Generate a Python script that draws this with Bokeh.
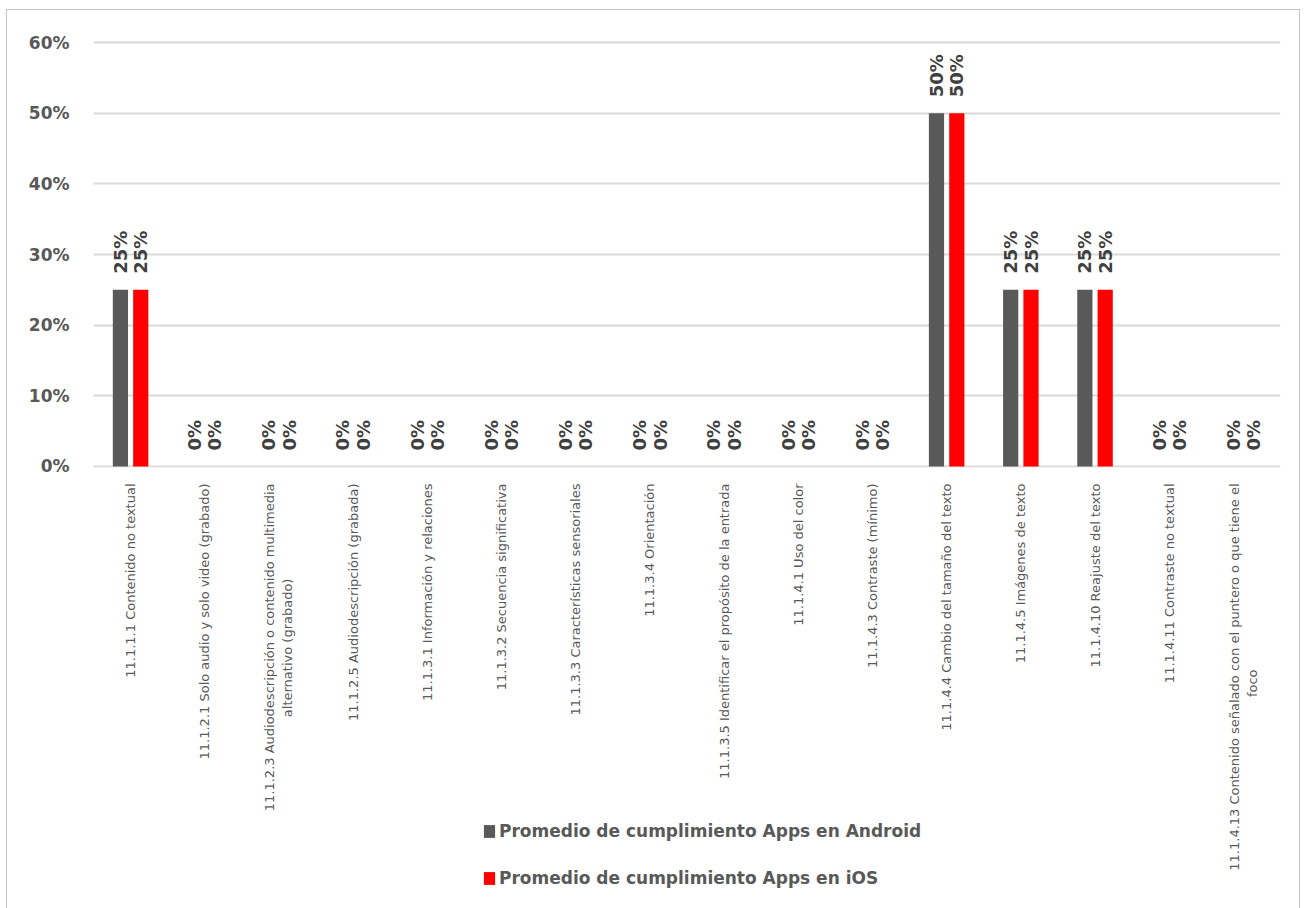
from bokeh.plotting import figure
from bokeh.models import (FactorRange, ColumnDataSource, FixedTicker, PrintfTickFormatter, Legend,
                          LegendItem, CustomJSTickFormatter)
from bokeh.transform import dodge
from bokeh.core.properties import value
from bokeh.embed import file_html
from bokeh.resources import INLINE
import math

categories = [
    "11.1.1.1 Contenido no textual",
    "11.1.2.1 Solo audio y solo video (grabado)",
    "11.1.2.3 Audiodescripción o contenido multimedia\nalternativo (grabado)",
    "11.1.2.5 Audiodescripción (grabada)",
    "11.1.3.1 Información y relaciones",
    "11.1.3.2 Secuencia significativa",
    "11.1.3.3 Características sensoriales",
    "11.1.3.4 Orientación",
    "11.1.3.5 Identificar el propósito de la entrada",
    "11.1.4.1 Uso del color",
    "11.1.4.3 Contraste (mínimo)",
    "11.1.4.4 Cambio del tamaño del texto",
    "11.1.4.5 Imágenes de texto",
    "11.1.4.10 Reajuste del texto",
    "11.1.4.11 Contraste no textual",
    "11.1.4.13 Contenido señalado con el puntero o que tiene el\nfoco",
]
android = [25, 0, 0, 0, 0, 0, 0, 0, 0, 0, 0, 50, 25, 25, 0, 0]
ios = [25, 0, 0, 0, 0, 0, 0, 0, 0, 0, 0, 50, 25, 25, 0, 0]
series_names = ["Promedio de cumplimiento Apps en Android", "Promedio de cumplimiento Apps en iOS"]
y_ticks = [0, 10, 20, 30, 40, 50, 60]

DARK = "#595959"
RED = "#FF0000"
FONT = "DejaVu Sans"

src = ColumnDataSource(dict(
    cat=categories,
    android=android,
    ios=ios,
    android_lbl=[f"{v}%" for v in android],
    ios_lbl=[f"{v}%" for v in ios],
))

p = figure(
    x_range=FactorRange(*categories), y_range=(-0.15, 60.3),
    frame_width=1187, frame_height=427,
    min_border_left=86, min_border_top=30, min_border_right=19, min_border_bottom=441,
    output_backend="svg", toolbar_location=None,
)
p.margin = (10, 0, 0, 7)
p.styles = {"outline": "1.5px solid #c4c4c4"}
p.outline_line_color = None
p.background_fill_color = "white"
p.border_fill_color = "white"

r1 = p.vbar(x=dodge("cat", -0.137, range=p.x_range), top="android", width=0.205, source=src,
            fill_color=DARK, line_color=None)
r2 = p.vbar(x=dodge("cat", 0.137, range=p.x_range), top="ios", width=0.205, source=src,
            fill_color=RED, line_color=None)

for off, col in [(-0.137, "android"), (0.137, "ios")]:
    p.text(x=dodge("cat", off, range=p.x_range), y=col, text=col + "_lbl", source=src,
           angle=math.pi / 2, text_align="left", text_baseline="middle",
           x_offset=0, y_offset=-16,
           text_font=value(FONT), text_font_style="bold", text_font_size="18px",
           text_color="#404040")

p.xgrid.grid_line_color = None
p.ygrid.grid_line_color = "#d9d9d9"
p.ygrid.grid_line_width = 2
p.ygrid.ticker = FixedTicker(ticks=y_ticks)

p.yaxis.ticker = FixedTicker(ticks=y_ticks)
p.yaxis.formatter = PrintfTickFormatter(format="%d%%")
p.yaxis.axis_line_color = None
p.yaxis.major_tick_line_color = None
p.yaxis.minor_tick_line_color = None
p.yaxis.major_label_text_font = FONT
p.yaxis.major_label_text_font_style = "bold"
p.yaxis.major_label_text_font_size = "17px"
p.yaxis.major_label_text_color = DARK
p.yaxis.major_label_standoff = 18

p.xaxis.axis_line_color = None
p.xaxis.major_tick_line_color = None
p.xaxis.minor_tick_line_color = None
p.xaxis.major_label_orientation = math.pi / 2
p.xaxis.major_label_text_font = FONT
p.xaxis.major_label_text_font_size = "13px"
p.xaxis.major_label_text_color = DARK
p.xaxis.major_label_standoff = 10
# centre the second line of wrapped labels (Bokeh end-aligns the lines of rotated labels)
p.xaxis.formatter = CustomJSTickFormatter(code="""
const parts = String(tick).split("\\n");
if (parts.length < 2) { return tick; }
const n = Math.max(0, Math.round((parts[0].length - parts[1].length) * 6.9 / 2 / 4.13));
return parts[0] + "\\n" + parts[1] + "\\u00a0".repeat(n);
""")

# Legend drawn in a small overlay figure (a legend outside the main frame would be clipped)
leg = figure(width=520, height=90, x_range=(1000, 1001), y_range=(1000, 1001),
             x_axis_type=None, y_axis_type=None, min_border=0,
             output_backend="svg", toolbar_location=None)
leg.outline_line_color = None
leg.grid.grid_line_color = None
leg.background_fill_alpha = 0
leg.border_fill_alpha = 0
lsrc = ColumnDataSource(dict(x=list(range(len(android))), a=android, b=ios))
lr1 = leg.vbar(x="x", top="a", width=0.1, source=lsrc, fill_color=DARK, line_color=None)
lr2 = leg.vbar(x="x", top="b", width=0.1, source=lsrc, fill_color=RED, line_color=None)
legend = Legend(items=[LegendItem(label=series_names[0], renderers=[lr1]),
                       LegendItem(label=series_names[1], renderers=[lr2])],
                location="top_left", orientation="vertical",
                glyph_width=14, glyph_height=16, label_height=22, spacing=25,
                label_standoff=3, padding=0, margin=0,
                border_line_color=None, background_fill_alpha=0,
                label_text_font=FONT, label_text_font_style="bold",
                label_text_font_size="17px", label_text_color=DARK)
leg.add_layout(legend, "center")
leg.styles = {"position": "absolute", "left": "482px", "top": "820px"}

open("out.html", "w").write(file_html([p, leg], INLINE))
